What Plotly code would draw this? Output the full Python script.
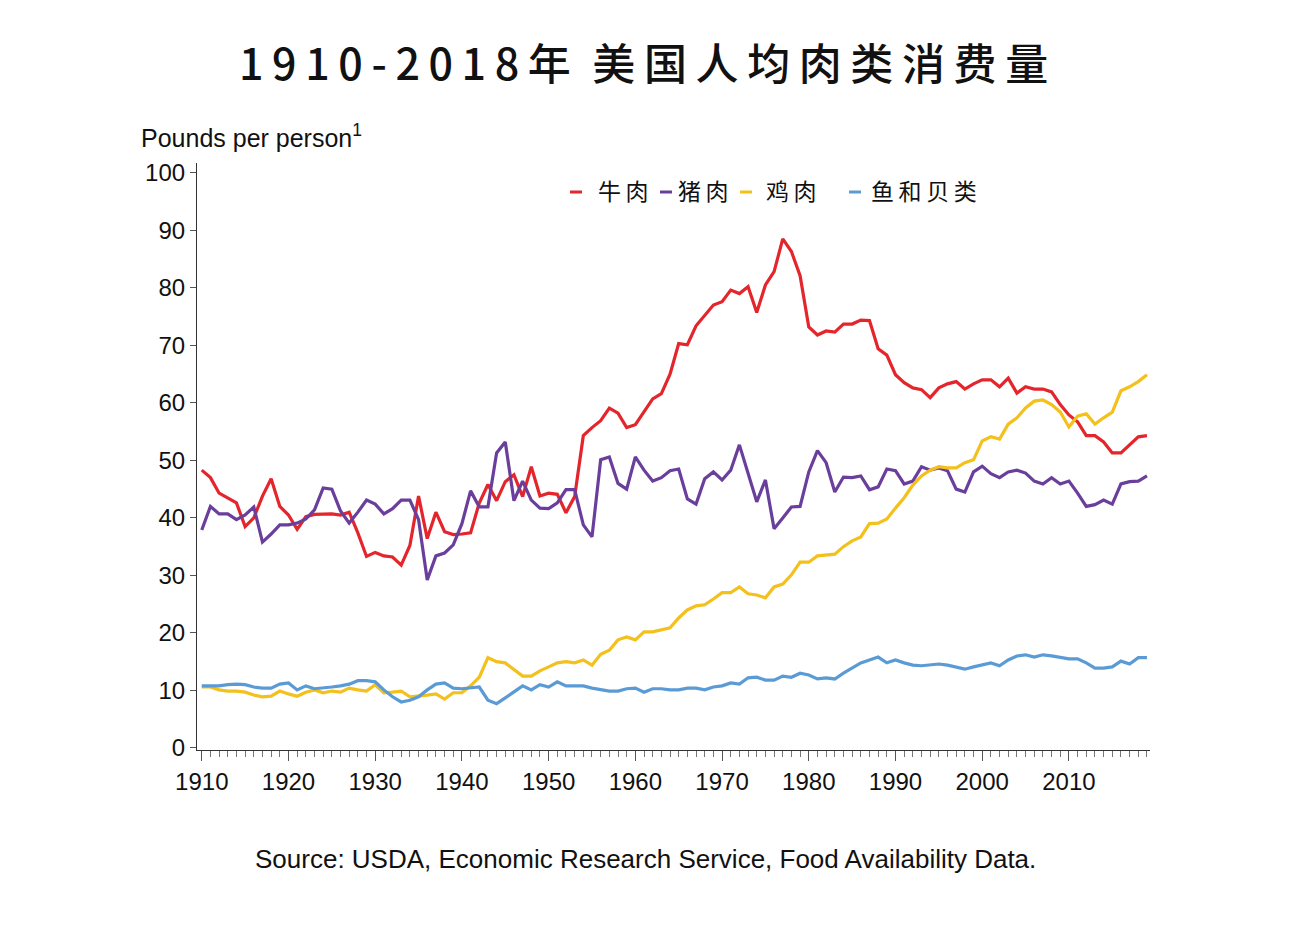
import plotly.graph_objects as go

years = list(range(1910, 2020))

beef = [48.3, 47.0, 44.3, 43.5, 42.6, 38.5, 40.0, 43.8, 46.8, 42.0,
        40.5, 38.0, 40.2, 40.6, 40.7, 40.7, 40.5, 41.0, 37.4, 33.3,
        34.0, 33.4, 33.2, 31.8, 35.2, 43.8, 36.4, 41.0, 37.6, 37.1,
        37.2, 37.4, 42.6, 45.8, 43.0, 46.3, 47.5, 43.7, 48.9, 43.8,
        44.3, 44.1, 40.9, 43.7, 54.3, 55.7, 56.9, 59.1, 58.2, 55.7,
        56.2, 58.4, 60.7, 61.6, 65.0, 70.3, 70.1, 73.4, 75.1, 77.0,
        77.6, 79.6, 79.0, 80.2, 75.7, 80.5, 82.8, 88.5, 86.3, 82.1,
        73.2, 71.8, 72.5, 72.3, 73.7, 73.7, 74.4, 74.3, 69.4, 68.3,
        64.9, 63.5, 62.6, 62.3, 60.9, 62.6, 63.3, 63.7, 62.4, 63.3,
        64.0, 64.0, 62.8, 64.3, 61.7, 62.8, 62.4, 62.4, 61.9, 59.7,
        57.9, 56.7, 54.3, 54.3, 53.2, 51.3, 51.3, 52.7, 54.1, 54.3]

pork = [37.9, 42.0, 40.7, 40.7, 39.7, 40.5, 41.9, 35.8, 37.2, 38.8,
        38.8, 39.1, 39.8, 41.4, 45.2, 45.0, 41.2, 39.1, 41.0, 43.1,
        42.4, 40.7, 41.6, 43.1, 43.1, 39.7, 29.2, 33.4, 33.9, 35.3,
        39.0, 44.7, 41.9, 41.9, 51.3, 53.2, 43.0, 46.4, 43.1, 41.7,
        41.6, 42.6, 44.9, 44.9, 38.8, 36.7, 50.1, 50.6, 46.0, 45.0,
        50.6, 48.3, 46.4, 47.0, 48.2, 48.5, 43.3, 42.4, 46.8, 48.0,
        46.6, 48.3, 52.7, 47.8, 42.8, 46.6, 38.1, 40.0, 41.9, 42.0,
        48.0, 51.7, 49.6, 44.5, 47.1, 47.0, 47.3, 44.9, 45.4, 48.5,
        48.2, 45.9, 46.4, 48.9, 48.3, 48.7, 48.2, 45.0, 44.5, 48.0,
        49.0, 47.7, 47.0, 48.0, 48.3, 47.8, 46.4, 45.9, 47.0, 45.9,
        46.4, 44.3, 42.0, 42.3, 43.1, 42.4, 45.9, 46.3, 46.4, 47.3]

chicken = [10.6, 10.6, 10.1, 9.9, 9.9, 9.7, 9.2, 8.9, 9.0, 9.9,
           9.4, 9.0, 9.7, 10.1, 9.6, 9.9, 9.7, 10.4, 10.1, 9.9,
           11.0, 9.6, 9.7, 9.9, 8.9, 9.0, 9.2, 9.4, 8.5, 9.6,
           9.6, 10.8, 12.3, 15.7, 15.0, 14.8, 13.7, 12.5, 12.5, 13.4,
           14.1, 14.8, 15.0, 14.8, 15.3, 14.4, 16.3, 17.0, 18.8, 19.3,
           18.8, 20.2, 20.2, 20.5, 20.9, 22.6, 24.0, 24.7, 24.9, 25.9,
           27.0, 27.0, 28.0, 26.8, 26.6, 26.1, 28.0, 28.5, 30.1, 32.3,
           32.3, 33.4, 33.6, 33.7, 35.0, 36.0, 36.7, 39.0, 39.1, 39.8,
           41.7, 43.5, 45.7, 47.3, 48.3, 48.9, 48.7, 48.7, 49.6, 50.1,
           53.4, 54.1, 53.7, 56.3, 57.4, 59.1, 60.3, 60.5, 59.7, 58.4,
           55.8, 57.7, 58.1, 56.3, 57.4, 58.4, 62.1, 62.8, 63.7, 64.9]

fish = [10.8, 10.8, 10.8, 11.0, 11.1, 11.0, 10.6, 10.4, 10.4, 11.1,
        11.3, 10.1, 10.8, 10.3, 10.4, 10.6, 10.8, 11.1, 11.7, 11.7,
        11.5, 10.1, 8.9, 8.0, 8.3, 8.9, 10.1, 11.1, 11.3, 10.4,
        10.3, 10.4, 10.6, 8.3, 7.7, 8.7, 9.7, 10.8, 10.1, 11.0,
        10.6, 11.5, 10.8, 10.8, 10.8, 10.4, 10.1, 9.9, 9.9, 10.3,
        10.4, 9.7, 10.3, 10.3, 10.1, 10.1, 10.4, 10.4, 10.1, 10.6,
        10.8, 11.3, 11.1, 12.2, 12.3, 11.8, 11.8, 12.5, 12.3, 13.0,
        12.7, 12.0, 12.2, 12.0, 13.0, 13.9, 14.8, 15.3, 15.8, 14.8,
        15.3, 14.8, 14.4, 14.3, 14.4, 14.6, 14.4, 14.1, 13.7, 14.1,
        14.4, 14.8, 14.3, 15.3, 16.0, 16.2, 15.8, 16.2, 16.0, 15.7,
        15.5, 15.5, 14.8, 13.9, 13.9, 14.1, 15.1, 14.6, 15.7, 15.7]

series_names = ["牛肉", "猪肉", "鸡肉", "鱼和贝类"]
series_values = [beef, pork, chicken, fish]
colors = ["#e4252c", "#6a3f9c", "#f4c01c", "#5b9bd5"]

x_tick_vals = list(range(1910, 2020, 10))
y_tick_vals = list(range(0, 101, 10))

fig = go.Figure()
for name, vals, col in zip(series_names, series_values, colors):
    fig.add_trace(go.Scatter(x=years, y=vals, mode="lines", name=name,
                             line=dict(color=col, width=3.2), showlegend=False))

W, H = 1300, 926
OFF = 8  # page body margin
# target plot area in screen pixels
SX0, SX1, SY0, SY1 = 197, 1150, 163, 750
L = SX0 - OFF
R = W + OFF - SX1
T = SY0 - OFF
B = H + OFF - SY1
pw, ph = SX1 - SX0, SY1 - SY0

def px(xs):
    return (xs - SX0) / pw

def py(ys):
    return (SY1 - ys) / ph

tick_font = dict(family="Liberation Sans, Arial, sans-serif", size=24, color="#111")

fig.update_layout(
    width=W, height=H,
    margin=dict(l=L, r=R, t=T, b=B),
    paper_bgcolor="white", plot_bgcolor="white",
    xaxis=dict(range=[1909.45, 2019.35], showgrid=False, zeroline=False,
               showline=True, linecolor="#333", linewidth=1.2,
               tickmode="array", tickvals=x_tick_vals,
               ticks="outside", ticklen=10, tickwidth=1, tickcolor="#555",
               tickfont=tick_font,
               minor=dict(dtick=1, tick0=1910, ticks="outside", ticklen=6,
                          tickwidth=1, tickcolor="#777", showgrid=False)),
    yaxis=dict(range=[-0.35, 101.7], showgrid=False, zeroline=False,
               showline=True, linecolor="#333", linewidth=1.2,
               tickmode="array", tickvals=y_tick_vals,
               ticks="outside", ticklen=6, tickwidth=1, tickcolor="#555",
               tickfont=tick_font),
)

sp = "\u2009"
title_text = sp.join("1910-2018年") + "\u2002" + sp.join("美国人均肉类消费量")
fig.add_annotation(text=title_text, xref="paper", yref="paper",
                   x=px(643), y=py(61), xanchor="center", yanchor="middle",
                   showarrow=False,
                   font=dict(family="Noto Sans CJK SC", size=43, color="#111", weight=500))

fig.add_annotation(text="Pounds per person<sup>1</sup>", xref="paper", yref="paper",
                   x=px(139), y=py(136), xanchor="left", yanchor="middle",
                   showarrow=False,
                   font=dict(family="Liberation Sans, Arial, sans-serif", size=25, color="#111"))

fig.add_annotation(text="Source: USDA, Economic Research Service, Food Availability Data.",
                   xref="paper", yref="paper", x=px(645), y=py(859),
                   xanchor="center", yanchor="middle", showarrow=False,
                   font=dict(family="Liberation Sans, Arial, sans-serif", size=26, color="#111"))

# custom legend
dash_x = [570, 660, 740, 849]
text_x = [596, 676, 764, 869]
leg_y = 190
for name, col, dx, tx in zip(series_names, colors, dash_x, text_x):
    fig.add_shape(type="line", xref="paper", yref="paper",
                  x0=px(dx), x1=px(dx + 12), y0=py(leg_y + 2), y1=py(leg_y + 2),
                  line=dict(color=col, width=3))
    fig.add_annotation(text=sp.join(name), xref="paper", yref="paper",
                       x=px(tx), y=py(leg_y), xanchor="left", yanchor="middle",
                       showarrow=False,
                       font=dict(family="Noto Sans CJK SC", size=23, color="#111"))

fig.write_html("out.html")
